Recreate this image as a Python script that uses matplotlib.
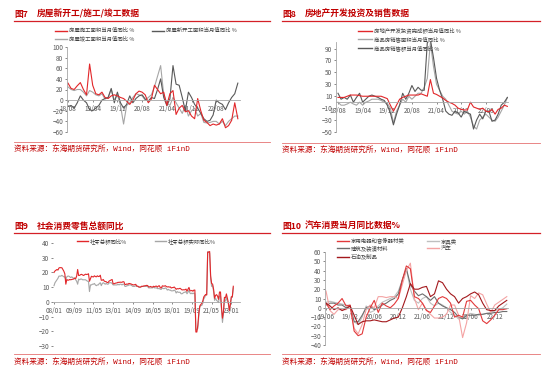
import matplotlib
matplotlib.use("Agg")
import matplotlib.pyplot as plt
from matplotlib.lines import Line2D

plt.rcParams['font.family'] = ['Noto Sans CJK SC', 'DejaVu Sans']

# ---------------- 数据 ----------------
# 图7 房屋新开工/施工/竣工 (18/08 - 23/03, 月度)
p1_labels = ['18/08', '19/04', '19/12', '20/08', '21/04', '21/12', '22/08']
p1_shigong = [32, 22, 20, 27, 33, 20, 10, 68, 28, 12, 10, 15, 5, 3, 8, 10, 8, 5, 3, -2,
              -8, 0, 12, 17, 15, 10, -5, 2, 28, 20, 12, 15, -10, 12, 18, -27, -15, -10, -22, -20,
              -30, -35, 3, -20, -38, -42, -48, -45, -47, -45, -35, -52, -48, -38, -5, -35]
p1_xinkaigong = [-12, -10, -15, -5, 8, 0, -5, -18, -20, -15, -10, 0, 3, 5, 22, -5, 15, -5, -15, -8,
                 8, -5, 3, 8, 10, 2, -2, 5, 3, 20, 40, 5, -10, 2, 65, 30, 28, 5, -20, 15,
                 5, -8, -15, -25, -35, -40, -38, -28, 0, -5, -8, -18, -5, 5, 12, 32]
p1_jungong = [25, 20, 18, 20, 20, 15, 8, 18, 15, 10, 8, 12, 2, 5, 20, 0, 10, -10, -45, -10,
              -5, 5, 12, 10, 8, 0, 5, 10, 25, 45, 65, 10, -5, -10, 5, -5, -15, -25, -10, -30,
              -20, -15, -30, -25, -42, -43, -42, -40, -40, -45, -40, -48, -40, -35, -30, -30]

# 图8 房地产开发投资及销售 (18/08 - 23/03)
p2_labels = ['18/08', '19/04', '19/12', '20/08', '21/04', '21/12', '22/08']
p2_touzi = [8, 8, 8, 10, 12, 12, 12, 11, 10, 10, 10, 10, 10, 10, 10, 8, 6, -5, -15, -5,
            5, 8, 10, 12, 12, 12, 12, 14, 12, 10, 38, 15, 13, 10, 7, 3, 0, -2, -5, -10,
            -12, -13, -13, 0, -8, -10, -12, -10, -15, -16, -12, -20, -12, -10, -5, -7]
p2_mianji = [0, -5, -5, -3, 0, -3, -5, 0, -5, 0, 2, 5, 5, 5, 3, 0, -2, -10, -35, -15,
             -5, 5, 0, 10, 5, 10, 15, 15, 25, 40, 100, 60, 30, 20, 10, 5, -5, -15, -18, -20,
             -15, -20, -15, -25, -40, -45, -30, -25, -20, -25, -30, -32, -25, -15, -5, 8]
p2_xiaoshoue = [15, 5, 8, 5, 12, 0, 8, 15, 0, 5, 10, 12, 10, 8, 5, 3, -5, -18, -38, -20,
                -5, 15, 5, 15, 28, 18, 25, 20, 20, 100, 105, 75, 40, 20, 5, -15, -20, -22, -15, -18,
                -25, -15, -18, -20, -45, -30, -20, -28, -15, -15, -32, -30, -20, -5, 0, 8]

# 图9 社会消费品零售总额同比 (08/01 - 23/03)
p3_labels = ['08/01', '09/09', '11/05', '13/01', '14/09', '16/05', '18/01', '19/09', '21/05', '23/01']
p3_nominal = (
    [20.0, 21.0, 21.5, 22.0, 21.6, 23.0, 23.3, 23.2, 23.2, 22.0, 20.8, 19.0]
    + [12.0, 15.2, 14.7, 14.8, 15.2, 15.0, 15.2, 15.4, 15.5, 16.2, 15.8, 17.5]
    + [22.0, 17.9, 18.0, 18.5, 18.7, 18.3, 17.9, 18.4, 18.8, 18.6, 18.7, 19.1]
    + [14.0, 15.8, 17.4, 17.1, 16.9, 17.7, 17.2, 17.0, 17.7, 17.2, 17.3, 18.1]
    + [14.7, 14.7, 15.2, 14.1, 13.8, 13.7, 13.1, 13.2, 14.2, 14.5, 14.9, 15.2]
    + [12.3, 12.3, 12.6, 12.8, 12.9, 13.3, 13.2, 13.4, 13.3, 13.3, 13.7, 13.6]
    + [11.8, 11.8, 12.2, 11.9, 12.5, 12.4, 12.2, 11.9, 11.6, 11.5, 11.7, 11.9]
    + [10.7, 10.7, 10.2, 10.0, 10.1, 10.6, 10.5, 10.8, 10.9, 11.0, 11.2, 11.1]
    + [10.2, 10.2, 10.5, 10.1, 10.0, 10.6, 10.2, 10.6, 10.7, 10.0, 10.8, 10.9]
    + [9.5, 9.5, 10.9, 10.7, 10.7, 11.0, 10.4, 10.1, 10.3, 10.0, 10.2, 9.4]
    + [9.7, 9.7, 10.1, 9.4, 8.5, 9.0, 8.8, 9.0, 9.2, 8.6, 8.1, 8.2]
    + [8.2, 8.2, 8.7, 7.2, 8.6, 9.8, 7.6, 7.5, 7.8, 7.2, 8.0, 8.0]
    + [-20.5, -20.5, -15.8, -7.5, -2.8, -1.8, -1.1, 0.5, 3.3, 4.3, 5.0, 4.6]
    + [33.8, 33.8, 34.2, 17.7, 12.4, 12.1, 8.5, 2.5, 4.4, 4.9, 3.9, 1.7]
    + [6.7, 6.7, -3.5, -11.1, -6.7, 3.1, 2.7, 5.4, 2.5, -0.5, -5.9, -1.8]
    + [3.5, 3.5, 10.6]
)
p3_real = (
    [11.0, 13.0, 14.0, 15.0, 16.0, 17.5, 17.5, 17.5, 18.0, 17.5, 17.0, 17.0]
    + [15.0, 17.0, 17.5, 17.5, 17.0, 16.5, 17.0, 16.5, 16.0, 16.0, 15.0, 14.0]
    + [12.0, 15.5, 15.0, 15.5, 15.5, 15.0, 15.0, 15.0, 15.0, 14.5, 14.0, 14.0]
    + [7.0, 11.5, 11.5, 12.0, 12.0, 12.5, 11.5, 11.0, 11.5, 11.5, 12.5, 13.0]
    + [11.0, 12.5, 13.0, 12.5, 12.0, 12.5, 12.0, 12.0, 13.0, 13.0, 13.0, 12.5]
    + [11.5, 11.5, 11.5, 11.5, 11.5, 12.0, 11.5, 12.0, 12.0, 11.5, 12.0, 12.0]
    + [10.5, 10.5, 11.0, 11.0, 11.5, 11.5, 11.5, 11.0, 10.5, 10.5, 10.5, 11.0]
    + [10.5, 10.5, 10.0, 10.0, 10.0, 10.5, 10.5, 10.5, 10.5, 10.5, 10.5, 10.5]
    + [9.5, 9.5, 9.5, 9.5, 9.5, 10.0, 9.5, 9.5, 9.5, 9.0, 9.0, 9.0]
    + [8.5, 8.5, 9.5, 9.0, 9.0, 9.5, 9.0, 8.0, 8.5, 8.0, 8.0, 7.5]
    + [7.5, 7.5, 8.0, 7.5, 6.0, 7.0, 6.5, 6.5, 6.5, 5.5, 5.5, 6.0]
    + [6.5, 6.5, 7.0, 5.5, 6.5, 8.0, 6.0, 5.5, 6.0, 5.5, 6.0, 5.5]
    + [-19.0, -19.0, -18.0, -9.5, -3.5, -2.5, -2.5, -1.0, 2.0, 3.0, 5.0, 5.0]
    + [34.0, 34.0, 33.0, 15.5, 10.5, 11.0, 7.0, 1.0, 2.5, 1.0, 0.5, -0.5]
    + [4.0, 4.0, -5.0, -14.0, -8.0, 1.5, 0.5, 3.0, 0.5, -1.5, -6.0, -2.0]
    + [3.0, 3.0, 9.5]
)

# 图10 分品类零售当月同比 (19/06 - 23/03)
p4_labels = ['19/06', '19/12', '20/06', '20/12', '21/06', '21/12', '22/06', '22/12']
p4_jiadian = [5, -2, 2, 5, 10, 2, 3, -25, -30, -28, -10, 0, 8, -5, 5, 2, 0, 4, 10, 30,
              45, 42, 12, 10, 5, -3, -5, 2, 10, 12, 10, 5, -10, -8, -10, 7, 8, 3, -1, -14,
              -17, -13, -8, -2, -2, -1]
p4_jiaju = [6, 7, 6, 5, 4, 3, 2, -15, -18, -10, 2, -5, -3, 2, 6, 8, 10, 12, 18, 30,
            42, 20, 8, 5, 10, 12, 5, 2, 5, 3, 0, -5, -8, -12, -10, -8, -6, -7, -8, -7,
            -6, -5, -3, -2, 0, 4]
p4_jianzhu = [3, 5, 5, 3, 3, 0, 2, -15, -15, -8, 0, 2, -2, 0, 3, 5, 8, 10, 15, 30,
              42, 25, 18, 13, 15, 12, 8, 12, 5, 2, 0, -2, -5, -10, -12, -8, -8, -8, -7, -7,
              -6, -6, -5, -5, -4, -4]
p4_qiche = [18, -3, -7, -2, -2, -2, 2, -22, -28, -18, -2, 3, 0, 12, 12, 11, 12, 12, 10, 25,
            40, 48, 10, -2, 5, -2, -7, -11, -11, -10, -7, 3, 3, -8, -32, -16, 13, 10, 16, 14,
            4, -5, 3, 6, 9, 12]
p4_shiyou = [5, 2, -2, 0, -3, -1, 2, -8, -18, -15, -14, -14, -13, -14, -15, -15, -13, -11, -10, 0,
             12, 26, 20, 20, 22, 23, 12, 15, 29, 27, 20, 15, 12, 5, 10, 12, 15, 17, 14, 5,
             -2, -3, -3, 2, 5, 8]

RED = '#E2272A'
DGRAY = '#595959'
LGRAY = '#A6A6A6'
TITLE_RED = '#C00000'
SRC = '资料来源：东海期货研究所，Wind，同花顺 iFinD'

W, H = 550, 384
fig = plt.figure(figsize=(W / 100, H / 100), dpi=100)


def fx(x):
    return x / W


def fy(y):
    return 1 - y / H


def add_ax(left, top, right, bottom):
    return fig.add_axes([fx(left), fy(bottom), (right - left) / W, (bottom - top) / H])


def style(ax, xlim, ylim, yticks, xticks, xlabels, left_spine=True):
    ax.set_xlim(*xlim)
    ax.set_ylim(*ylim)
    ax.patch.set_alpha(0)
    ax.spines['top'].set_visible(False)
    ax.spines['right'].set_visible(False)
    ax.spines['bottom'].set_position(('data', 0))
    for s in ['bottom', 'left']:
        ax.spines[s].set_color('#A6A6A6')
        ax.spines[s].set_linewidth(0.6)
    ax.spines['left'].set_visible(left_spine)
    ax.set_yticks(yticks)
    ax.set_xticks(xticks)
    ax.set_xticklabels(xlabels)
    ax.tick_params(labelsize=4.6, colors='#595959', length=1.5, width=0.5, pad=1.2)
    ax.tick_params(axis='x', pad=2)


def header(x, y, num, title, line_right, src_line_y, src_y):
    fig.text(fx(x), fy(y), num, color=TITLE_RED, fontsize=6.3, weight='bold', va='center')
    fig.text(fx(x + 23), fy(y), title, color=TITLE_RED, fontsize=6.3, weight='bold', va='center')
    fig.add_artist(Line2D([fx(x), fx(line_right)], [fy(y + 7), fy(y + 7)],
                          transform=fig.transFigure, color='#D42027', lw=0.9))
    fig.add_artist(Line2D([fx(x), fx(line_right)], [fy(src_line_y), fy(src_line_y)],
                          transform=fig.transFigure, color='#E57373', lw=0.6))
    fig.text(fx(x), fy(src_y), SRC, color=TITLE_RED, fontsize=5.5, va='center',
             family=['Liberation Mono', 'Noto Sans CJK SC'])


def legend_item(x, y, color, label, hl=12, lw=1.0):
    fig.add_artist(Line2D([fx(x), fx(x + hl)], [fy(y), fy(y)],
                          transform=fig.transFigure, color=color, lw=lw))
    fig.text(fx(x + hl + 2), fy(y), label, color='#404040', fontsize=3.9, va='center')


# ---------------- 图7 ----------------
header(14, 14, '图7', '房屋新开工/施工/竣工数据', 270, 142, 150)
ax1 = add_ax(67, 47, 240, 132)
x1 = list(range(len(p1_shigong)))
ax1.plot(x1, p1_jungong, color=LGRAY, lw=0.8)
ax1.plot(x1, p1_xinkaigong, color=DGRAY, lw=0.8)
ax1.plot(x1, p1_shigong, color=RED, lw=0.8)
style(ax1, (-0.32, 55.7), (-60, 100), range(-60, 101, 20),
      range(0, 49, 8), p1_labels)
legend_item(55, 30.7, RED, '房屋施工面积当月值同比 %')
legend_item(152, 30.7, DGRAY, '房屋新开工面积当月值同比 %')
legend_item(55, 38.7, LGRAY, '房屋竣工面积当月值同比 %')

# ---------------- 图8 ----------------
header(282, 14, '图8', '房地产开发投资及销售数据', 540, 142.7, 150.7)
ax2 = add_ax(336, 42, 508, 132)
x2 = list(range(len(p2_touzi)))
ax2.plot(x2, p2_mianji, color=LGRAY, lw=0.8)
ax2.plot(x2, p2_xiaoshoue, color=DGRAY, lw=0.8)
ax2.plot(x2, p2_touzi, color=RED, lw=0.8)
style(ax2, (-0.65, 55.2), (-50, 101), range(-50, 91, 20),
      range(0, 49, 8), p2_labels)
legend_item(358, 30.7, RED, '房地产开发投资完成额当月值同比 %', hl=14)
legend_item(358, 39.3, LGRAY, '商品房销售面积当月值同比 %', hl=14)
legend_item(358, 48.3, DGRAY, '商品房销售额当月值同比 %', hl=14)

# ---------------- 图9 ----------------
header(14, 226, '图9', '社会消费零售总额同比', 270, 354, 363)
ax3 = add_ax(53, 243, 240, 346)
x3 = list(range(len(p3_nominal)))
ax3.plot(x3, p3_real, color=LGRAY, lw=0.8)
ax3.plot(x3, p3_nominal, color=RED, lw=0.8)
style(ax3, (-1.02, 188.8), (-30, 40), range(-30, 41, 10),
      range(0, 181, 20), p3_labels, left_spine=False)
legend_item(77, 241, RED, '社零总额同比%', hl=11)
legend_item(155, 241, LGRAY, '社零总额实际同比%', hl=11)

# ---------------- 图10 ----------------
header(282, 226, '图10', '汽车消费当月同比数据%', 540, 354, 363)
ax4 = add_ax(325, 252, 508, 345)
x4 = list(range(len(p4_qiche)))
ax4.plot(x4, p4_jiaju, color='#BFBFBF', lw=0.8)
ax4.plot(x4, p4_jianzhu, color='#6E6E6E', lw=0.8)
ax4.plot(x4, p4_qiche, color='#F4A3A3', lw=0.8)
ax4.plot(x4, p4_jiadian, color='#E2393B', lw=0.8)
ax4.plot(x4, p4_shiyou, color='#A3181C', lw=0.8)
style(ax4, (-0.25, 45.3), (-40, 60), range(-40, 61, 10),
      range(0, 43, 6), p4_labels)
legend_item(337, 240.7, '#E2393B', '家用电器和音像器材类')
legend_item(337, 248.3, '#6E6E6E', '建筑及装潢材料')
legend_item(337, 256.7, '#A3181C', '石油及制品')
legend_item(427, 240.7, '#BFBFBF', '家具类')
legend_item(427, 248.3, '#F4A3A3', '汽车')

fig.savefig('out.png', dpi=100)
